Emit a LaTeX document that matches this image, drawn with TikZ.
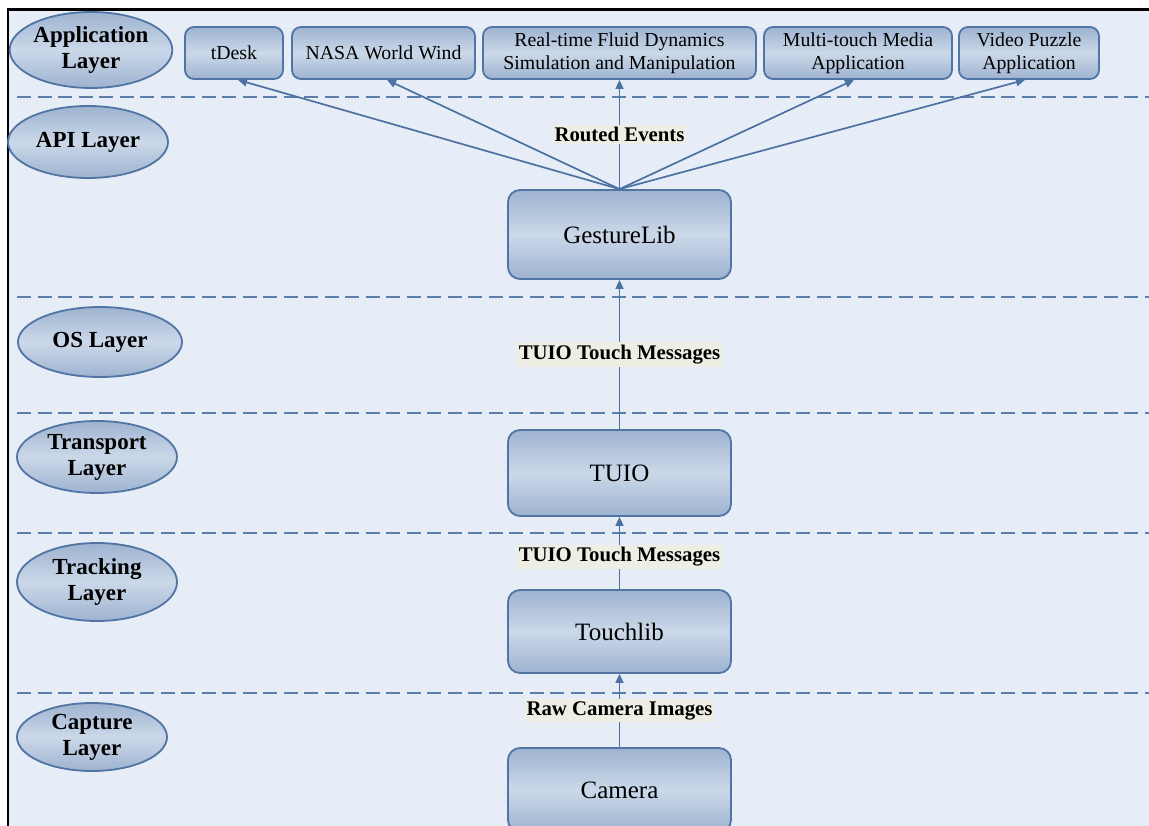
\documentclass[tikz,border=0pt]{standalone}
\usepackage{fontspec}
\setmainfont{Liberation Serif}
\usetikzlibrary{shapes.geometric,arrows.meta}
\definecolor{bgblue}{RGB}{230,237,247}
\definecolor{linkblue}{RGB}{76,113,162}
\definecolor{dashblue}{RGB}{92,126,170}
\definecolor{shadedark}{RGB}{158,179,208}
\definecolor{shadelight}{RGB}{203,216,233}
\definecolor{edgeblue}{RGB}{80,116,164}
\definecolor{tagbg}{RGB}{239,238,228}
\begin{document}
\begin{tikzpicture}[x=1pt,y=-1pt,
  shaded/.style={top color=shadedark,bottom color=shadedark,middle color=shadelight,
    draw=edgeblue,line width=1.8pt},
  layer/.style={shaded,ellipse,inner sep=0pt,align=center,
    font=\fontsize{23}{26}\selectfont\bfseries},
  appbox/.style={shaded,rounded corners=9pt,inner sep=0pt,minimum height=52pt,
    align=center,font=\fontsize{19.8}{23}\selectfont},
  modbox/.style={shaded,rounded corners=12pt,inner sep=0pt,minimum width=223pt,
    align=center,font=\fontsize{25}{28}\selectfont},
  tag/.style={fill=tagbg,inner xsep=1.5pt,inner ysep=2.5pt,
    font=\fontsize{20.8}{24}\selectfont\bfseries},
  link/.style={draw=linkblue,line width=1.7pt,-{Triangle[length=9pt,width=8pt]}},
  divider/.style={draw=dashblue,line width=2pt,dash pattern=on 14pt off 6.5pt}]

\useasboundingbox (0,0) rectangle (1149,826);
\begin{scope}
\clip (0,0) rectangle (1149,826);

% panel background and frame
\fill[bgblue] (8,9) rectangle (1149,826);
\draw[black,line width=2.5pt] (8,826) -- (8,9.5) -- (1149,9.5);

% layer separators
\foreach \yy in {97.5,297,413,533,693}
  \draw[divider] (17,\yy) -- (1149,\yy);

% layer labels
\node[layer,minimum width=154pt,minimum height=76pt] (appl) at (91,50) {Application\\Layer};
\node[layer,minimum width=160pt,minimum height=72pt] (apil) at (88,142) {API Layer};
\node[layer,minimum width=164pt,minimum height=70pt] (osl) at (100,342) {OS Layer};
\node[layer,minimum width=160pt,minimum height=72pt] (trl) at (97,457) {Transport\\Layer};
\node[layer,minimum width=160pt,minimum height=78pt] (tkl) at (97,582) {Tracking\\Layer};
\node[layer,minimum width=150pt,minimum height=68pt] (cpl) at (92,737) {Capture\\Layer};

% applications
\node[appbox,minimum width=98pt] (tdesk) at (234,53) {tDesk};
\node[appbox,minimum width=183pt] (nasa) at (383.5,53) {NASA World Wind};
\node[appbox,minimum width=273pt] (fluid) at (619.5,53) {Real-time Fluid Dynamics\\Simulation and Manipulation};
\node[appbox,minimum width=188pt] (media) at (858,53) {Multi-touch Media\\Application};
\node[appbox,minimum width=140pt] (puzzle) at (1029,53) {Video Puzzle\\Application};

% processing modules
\node[modbox,minimum height=89pt] (gesture) at (619.5,234.5) {GestureLib};
\node[modbox,minimum height=86pt] (tuio) at (619.5,473) {TUIO};
\node[modbox,minimum height=83pt] (touch) at (619.5,631.5) {Touchlib};
\node[modbox,minimum height=84pt] (camera) at (619.5,790) {Camera};

% routed events fan out to the applications
\draw[link] (gesture.north) -- ([xshift=4pt]tdesk.south);
\draw[link] (gesture.north) -- ([xshift=3.5pt]nasa.south);
\draw[link] (gesture.north) -- ([xshift=-4pt]media.south);
\draw[link] (gesture.north) -- ([xshift=-4pt]puzzle.south);
\draw[link] (gesture.north) -- (fluid.south) node[tag,pos=0.5] {Routed Events};

% data flow between modules
\draw[link] (tuio.north) -- (gesture.south) node[tag,pos=0.5] {TUIO Touch Messages};
\draw[link] (touch.north) -- (tuio.south) node[tag,pos=0.45] {TUIO Touch Messages};
\draw[link] (camera.north) -- (touch.south) node[tag,pos=0.5] {Raw Camera Images};
\end{scope}
\end{tikzpicture}
\end{document}
